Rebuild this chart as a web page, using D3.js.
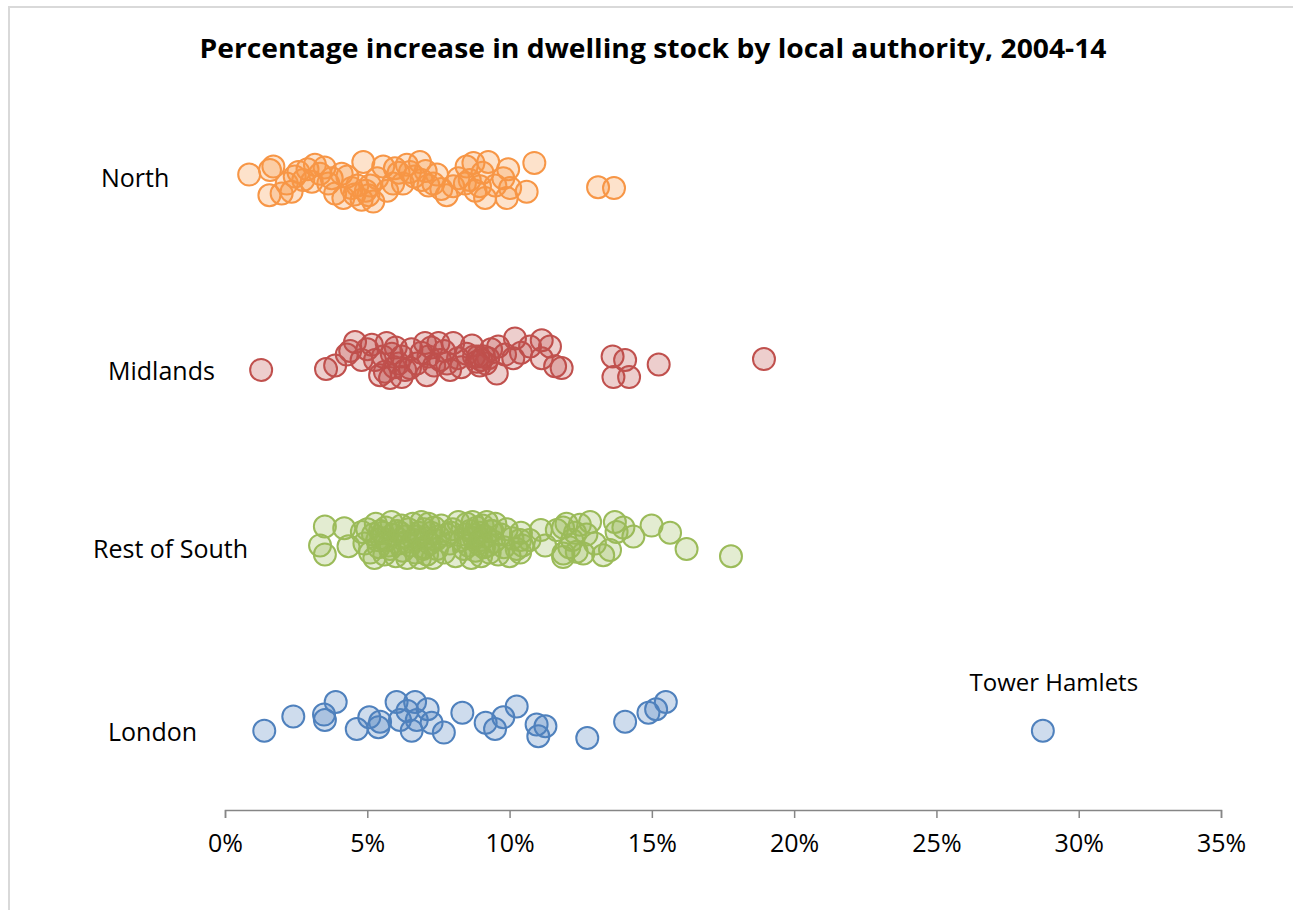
<!DOCTYPE html>
<html><head><meta charset="utf-8">
<script src="https://cdn.jsdelivr.net/npm/d3@7"></script>
<style>body{margin:0;background:#fff;overflow:hidden}</style>
</head><body><svg id="c" width="1293" height="910"></svg>
<script>
// ---------- data ----------
const title = "Percentage increase in dwelling stock by local authority, 2004-14";
const categories = ["North", "Midlands", "Rest of South", "London"];
const categoryLevel = [4, 3, 2, 1];
const tickValues = [0, 5, 10, 15, 20, 25, 30, 35];
const tickLabels = ["0%", "5%", "10%", "15%", "20%", "25%", "30%", "35%"];

// [percentage increase, vertical jitter]
const northValues = [
  [0.85,0.03],[1.58,0.055],[1.70,0.075],[1.56,-0.085],[1.99,-0.075],[2.17,-0.02],[2.34,-0.065],
  [2.58,0.045],[2.75,0],[3.16,0.085],[3.34,0.035],[3.63,-0.02],[3.87,-0.075],[4.10,0.035],
  [4.16,-0.10],[4.45,-0.045],[4.86,0.10],[4.80,-0.11],[5.04,-0.085],[5.21,-0.12],[5.56,0.075],
  [5.91,-0.02],[5.97,0.065],[6.39,0.085],[6.50,0.045],[6.85,0.10],[6.91,0],[7.32,-0.02],
  [7.79,-0.085],[8.02,-0.035],[8.49,0.075],[8.73,0.095],[8.43,-0.02],[8.96,-0.035],[9.14,-0.10],
  [9.25,0.10],[9.78,0.01],[10.02,-0.045],[9.90,-0.10],[10.60,-0.065],[10.87,0.095],[13.11,-0.04],
  [13.67,-0.045],[2.45,0.02],[2.9,0.06],[3.05,-0.01],[3.5,0.07],[3.75,0.01],[4.3,0.02],
  [4.55,-0.08],[4.65,-0.03],[4.95,-0.06],[5.1,-0.03],[5.35,0.01],[6.1,0.04],[6.25,-0.02],
  [6.65,0.02],[7.05,0.05],[7.15,-0.03],[7.45,0.03],[7.6,-0.05],[8.2,0.01],[8.6,0.0],
  [8.8,-0.06],[9.05,0.04],[9.5,-0.03],[9.95,0.06],[5.7,-0.06]
];
const midlandsValues = [
  [1.27,-0.055],[3.55,-0.05],[3.87,-0.03],[4.28,0.03],[4.57,0.10],[4.80,0],[5.16,0.085],
  [5.27,0],[5.45,-0.085],[5.68,0.095],[5.86,0.035],[5.80,-0.10],[6.21,-0.095],[6.21,0.02],
  [6.50,-0.045],[6.74,-0.02],[7.03,0.095],[7.09,-0.085],[7.50,0.095],[7.56,0],[7.91,-0.055],
  [8.02,0.095],[8.49,0.035],[8.85,-0.01],[9.0,0],[9.17,-0.02],[8.9,0.02],[9.1,0.02],
  [9.55,-0.075],[9.60,0.075],[9.84,0.03],[10.13,0.01],[10.19,0.12],[10.72,0.075],[11.13,0.11],
  [11.42,0.075],[11.13,0.01],[11.60,-0.035],[11.83,-0.045],[13.62,0.02],[14.06,0],[13.65,-0.095],
  [14.2,-0.095],[15.24,-0.025],[18.94,0.005],[4.4,0.05],[5.0,0.06],[5.55,0.02],[5.62,-0.065],
  [6.0,0.07],[6.33,-0.055],[6.55,0.06],[6.9,0.04],[7.25,0.07],[7.35,-0.03],[7.7,0.05],
  [7.8,-0.02],[8.19,0.01],[8.3,-0.04],[8.68,0.08],[8.75,0.02],[8.95,-0.03],[9.25,0.01],
  [9.35,0.06],[10.4,0.04],[6.1,-0.02],[7.15,0.02],[5.95,-0.04]
];
const southValues = [
  [3.34,-0.03],[3.51,0.075],[3.51,-0.08],[4.19,0.065],[4.34,-0.035],[4.81,0.045],
  [4.9,-0.02],[5.0,0.06],[5.1,-0.07],[5.2,0.03],[5.25,-0.1],[5.3,0.09],[5.4,-0.04],[5.45,0.05],[5.5,0.01],
  [5.6,-0.08],[5.65,0.07],[5.7,0.0],[5.8,-0.05],[5.85,0.1],[5.9,0.03],[6.0,-0.09],[6.05,0.05],
  [6.1,-0.02],[6.2,0.08],[6.25,-0.06],[6.3,0.02],[6.4,-0.1],[6.45,0.06],
  [6.5,-0.03],[6.6,0.09],[6.65,0.0],[6.7,-0.07],[6.8,0.04],[6.85,-0.1],[6.9,0.1],[7.0,-0.04],
  [7.0,0.06],[7.05,0.01],[7.1,-0.08],[7.15,0.09],[7.2,-0.02],[7.25,0.04],[7.3,-0.1],[7.35,0.07],
  [7.45,-0.05],[7.5,0.02],
  [7.6,0.08],[7.7,-0.07],[7.8,0.03],[7.9,-0.02],[8.0,0.06],[8.1,-0.09],[8.2,0.1],[8.3,0.0],[8.4,-0.05],
  [8.5,0.09],[8.55,-0.03],[8.6,0.05],[8.65,-0.1],[8.7,0.1],[8.75,0.01],[8.8,-0.06],[8.85,0.07],
  [8.9,-0.02],[8.95,0.04],[9.0,-0.09],[9.05,0.08],[9.1,-0.04],[9.15,0.02],[9.2,0.1],[9.3,-0.07],
  [9.35,0.05],[9.45,-0.01],
  [9.5,0.09],[9.6,-0.08],[9.7,0.03],[9.8,-0.04],[9.9,0.06],[10.0,-0.09],[10.1,0.01],[10.25,-0.05],
  [10.4,0.04],[10.45,-0.03],
  [10.37,0],[10.37,-0.07],[11.1,0.055],[11.25,-0.03],[10.7,0.0],
  [11.88,0.07],[11.88,-0.095],[12.0,0.09],[11.66,0.055],[11.89,-0.075],[12.36,-0.065],[12.47,0.085],
  [12.59,-0.075],[12.2,0.0],[12.3,0.04],[12.1,-0.04],
  [12.83,0.1],[13.29,-0.085],[13.53,-0.055],[13.70,0.1],[13.76,0.045],[14.0,0.07],[14.35,0.02],
  [13.0,-0.02],[12.7,0.03],
  [14.99,0.08],[15.64,0.04],[16.22,-0.05],[17.78,-0.09],
  [5.35,0.0],[5.75,-0.03],[6.15,0.04],[6.35,-0.01],[6.75,0.02],[6.95,-0.05],[7.4,0.0],
  [8.45,0.03],[8.8,0.03],[9.0,0.0],[9.25,-0.03],[9.4,0.05],[5.55,0.04],[7.95,0.04]
];
const londonValues = [
  [1.38,-0.06],[2.40,0.02],[3.48,0.03],[3.51,0.0],[3.89,0.10],[4.63,-0.05],[5.07,0.015],
  [5.39,-0.04],[5.45,-0.01],[6.03,0.10],[6.15,0.0],[6.41,0.05],[6.56,-0.06],[6.68,0.10],
  [6.74,0.0],[7.12,0.06],[7.26,-0.015],[7.69,-0.07],[8.34,0.04],[9.16,-0.015],[9.49,-0.05],
  [9.78,0.015],[10.25,0.075],[10.95,-0.025],[11.01,-0.09],[11.26,-0.035],[12.73,-0.10],
  [14.06,-0.01],[14.88,0.04],[15.15,0.06],[15.49,0.10],[28.74,-0.06]
];
const seriesValues = [northValues, midlandsValues, southValues, londonValues];
const annotationText = "Tower Hamlets";
const annotationValue = [28.74, -0.06];

// ---------- layout / style ----------
const W = 1293, H = 910;
const colors = ["#F79646", "#C0504D", "#9BBB59", "#4F81BD"];
const labelLayout = [ {x: 101, dy: 7}, {x: 108, dy: 20}, {x: 93, dy: 18}, {x: 108, dy: 21} ];
const font = "'Open Sans', 'Noto Sans', sans-serif";

const svg = d3.select("#c");
svg.append("rect").attr("x", 9).attr("y", 7).attr("width", W + 20).attr("height", H + 20)
  .attr("fill", "#fff").attr("stroke", "#d9d9d9").attr("stroke-width", 2);

const x = d3.scaleLinear().domain([0, 35]).range([225, 1221]);
const y = d3.scaleLinear().domain([0.5, 4.5]).range([810, 90]);

svg.append("text").attr("x", 653).attr("y", 58).attr("text-anchor", "middle")
  .attr("font-family", font).attr("font-weight", 700).attr("font-size", 27)
  .attr("textLength", 907).attr("lengthAdjust", "spacingAndGlyphs")
  .attr("fill", "#000").text(title);

// axis
const axis = d3.axisBottom(x).tickValues(tickValues).tickSize(8).tickPadding(16)
  .tickFormat((d, i) => tickLabels[i]);
const gA = svg.append("g").attr("transform", `translate(0,${y(0.5)})`).call(axis);
gA.select(".domain").attr("stroke", "#868686").attr("stroke-width", 1.5);
gA.selectAll(".tick line").attr("stroke", "#868686").attr("stroke-width", 1.5);
gA.selectAll(".tick text").attr("font-family", font).attr("font-size", 25).attr("fill", "#000");

// points
seriesValues.forEach((vals, i) => {
  svg.append("g").selectAll("circle").data(vals).join("circle")
    .attr("cx", d => x(d[0]))
    .attr("cy", d => y(categoryLevel[i] + d[1]))
    .attr("r", 11)
    .attr("fill", colors[i]).attr("fill-opacity", 0.28)
    .attr("stroke", colors[i]).attr("stroke-width", 2);
});

// category labels
categories.forEach((c, i) => {
  svg.append("text").attr("x", labelLayout[i].x).attr("y", y(categoryLevel[i]) + labelLayout[i].dy)
    .attr("font-family", font).attr("font-size", 25).attr("fill", "#000").text(c);
});

// annotation
svg.append("text").attr("x", x(annotationValue[0]) + 11).attr("y", y(1 + annotationValue[1]) - 40)
  .attr("text-anchor", "middle").attr("font-family", font).attr("font-size", 24)
  .attr("fill", "#000").text(annotationText);
</script></body></html>
